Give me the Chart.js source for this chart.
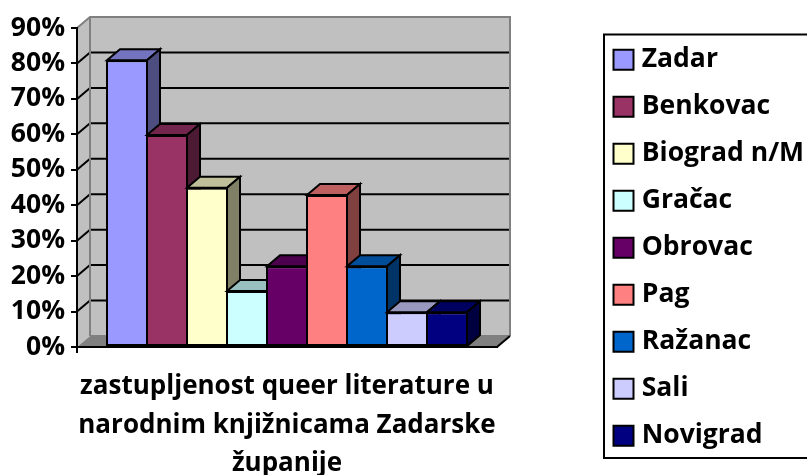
<!DOCTYPE html>
<html><head><meta charset="utf-8">
<style>html,body{margin:0;padding:0;background:#fff}#w{width:807px;height:475px;overflow:hidden}</style>
<script src="https://cdn.jsdelivr.net/npm/chart.js@4"></script></head>
<body><div id="w"><canvas id="c" width="807" height="475"></canvas></div>
<script>
const categories = ['Zadar','Benkovac','Biograd n/M','Gračac','Obrovac','Pag','Ražanac','Sali','Novigrad'];
const values = [80.9,59.8,44.9,15.8,22.8,42.9,22.8,9.8,9.8];
const colors = ['#9999FF','#993366','#FFFFCC','#CCFFFF','#660066','#FF8080','#0066CC','#CCCCFF','#000080'];
const axisTitle = ['zastupljenost queer literature u','narodnim knjižnicama Zadarske','županije'];
const DX = 13, DY = 11;
const FONT = '"Open Sans", sans-serif';

function shade(hex, f){
  const n = parseInt(hex.slice(1),16);
  const c = s => Math.round(((n>>s)&255)*f);
  return `rgb(${c(16)},${c(8)},${c(0)})`;
}
function poly(ctx, pts, fill, stroke, lw){
  ctx.beginPath();
  pts.forEach((p,i)=> i?ctx.lineTo(p[0],p[1]):ctx.moveTo(p[0],p[1]));
  ctx.closePath();
  if(fill){ctx.fillStyle=fill;ctx.fill();}
  if(stroke){ctx.strokeStyle=stroke;ctx.lineWidth=lw||2;ctx.lineJoin='miter';ctx.stroke();}
}
const scene = {
  id:'scene',
  beforeLayout(chart){
    const l = chart.legend;
    if(l && !l._wrapped){
      const f = l.fit;
      l.fit = function(){ f.call(this); this.width = 310; };
      l._wrapped = true;
    }
  },
  afterLayout(chart){
    const l = chart.legend;
    const w = l.width, h = l.height;
    l.left = 598; l.right = l.left + w;
    l.top = 26; l.bottom = l.top + h;
  },
  beforeDraw(chart){
    const {ctx, chartArea:a, scales:{y}} = chart;
    ctx.save();
    ctx.strokeStyle='#000';ctx.lineWidth=2;ctx.strokeRect(604,34.5,210,423.5);
    const T=y.getPixelForValue(90), B=y.getPixelForValue(0), L=a.left, R=a.right;
    poly(ctx,[[L+DX,T-DY],[R+DX,T-DY],[R+DX,B-DY],[L+DX,B-DY]],'#C0C0C0');
    poly(ctx,[[L,T],[L+DX,T-DY],[L+DX,B-DY],[L,B]],'#C0C0C0');
    poly(ctx,[[L,B],[L+DX,B-DY],[R+DX,B-DY],[R,B]],'#808080');
    ctx.strokeStyle='#000';ctx.lineWidth=2;
    y.ticks.forEach(t=>{
      if(t.value===0||t.value===90) return;
      const p=y.getPixelForValue(t.value);
      ctx.beginPath();ctx.moveTo(L,p);ctx.lineTo(L+DX,p-DY);ctx.lineTo(R+DX,p-DY);ctx.stroke();
    });
    ctx.strokeStyle='#808080';ctx.lineWidth=2;
    ctx.beginPath();
    ctx.moveTo(L,T);ctx.lineTo(L+DX,T-DY);ctx.lineTo(R+DX,T-DY);ctx.lineTo(R+DX,B-DY);
    ctx.moveTo(L+DX,T-DY);ctx.lineTo(L+DX,B-DY);
    ctx.moveTo(L+DX,B-DY);ctx.lineTo(R+DX,B-DY);
    ctx.stroke();
    ctx.strokeStyle='#000';
    ctx.beginPath();ctx.moveTo(R,B);ctx.lineTo(R+DX,B-DY);ctx.stroke();
    ctx.beginPath();ctx.moveTo(L,B);ctx.lineTo(L,B+6);ctx.stroke();
    ctx.restore();
  },
  // The 3D bars overlap left over right, so the library's elements are painted here in series order.
  beforeDatasetDraw(){ return false; },
  afterDatasetsDraw(chart){
    const {ctx}=chart;
    categories.forEach((_,i)=>{
      const el=chart.getDatasetMeta(i).data[0]; if(!el) return;
      const {x,y,base,width}=el.getProps(['x','y','base','width'],true);
      const l=x-width/2+1, r=x+width/2-1;
      ctx.save();
      poly(ctx,[[l,y],[l+DX,y-DY],[r+DX,y-DY],[r,y]],shade(colors[i],.75),'#000',2);
      poly(ctx,[[r,y],[r+DX,y-DY],[r+DX,base-DY],[r,base]],shade(colors[i],.5),'#000',2);
      ctx.restore();
      el.draw(ctx,chart.chartArea);
    });
    const a=chart.chartArea;
    ctx.save();ctx.strokeStyle='#000';ctx.lineWidth=2;
    ctx.beginPath();ctx.moveTo(a.left,a.bottom);ctx.lineTo(a.right,a.bottom);ctx.stroke();ctx.restore();
  }
};
new Chart(document.getElementById('c'),{
  type:'bar',
  data:{
    labels:[''],
    datasets:categories.map((name,i)=>({
      label:name,
      data:[values[i]],
      backgroundColor:colors[i],
      borderColor:'#000',
      borderWidth:2,
      borderSkipped:false,
      inflateAmount:0,
      categoryPercentage:360/420,
      barPercentage:42/40
    }))
  },
  options:{
    responsive:false,animation:false,
    layout:{padding:{top:28,left:0,right:0,bottom:0}},
    plugins:{
      tooltip:{enabled:false},
      title:{display:false},
      legend:{
        position:'right',align:'start',
        labels:{
          color:'#000',
          font:{family:FONT,size:26.5,weight:'bold'},
          usePointStyle:true,pointStyle:'rect',
          boxWidth:10,boxHeight:20,
          padding:20.5
        }
      }
    },
    scales:{
      x:{
        grid:{display:false},
        border:{display:true,color:'#000',width:2},
        ticks:{display:false},
        afterFit(s){s.height=128;},
        title:{display:true,text:axisTitle,color:'#000',
          font:{family:FONT,size:26,weight:'bold',lineHeight:1.48},
          padding:{top:0,bottom:-8}}
      },
      y:{
        min:0,max:90,
        afterFit(s){s.width=77;},
        grid:{drawOnChartArea:false,drawTicks:true,tickLength:6,color:'#000',lineWidth:2},
        border:{display:true,color:'#000',width:2},
        ticks:{stepSize:10,color:'#000',padding:6,autoSkip:false,
          font:{family:FONT,size:26.5,weight:'bold'},
          callback:v=>v+'%'}
      }
    }
  },
  plugins:[scene]
});
</script></body></html>
